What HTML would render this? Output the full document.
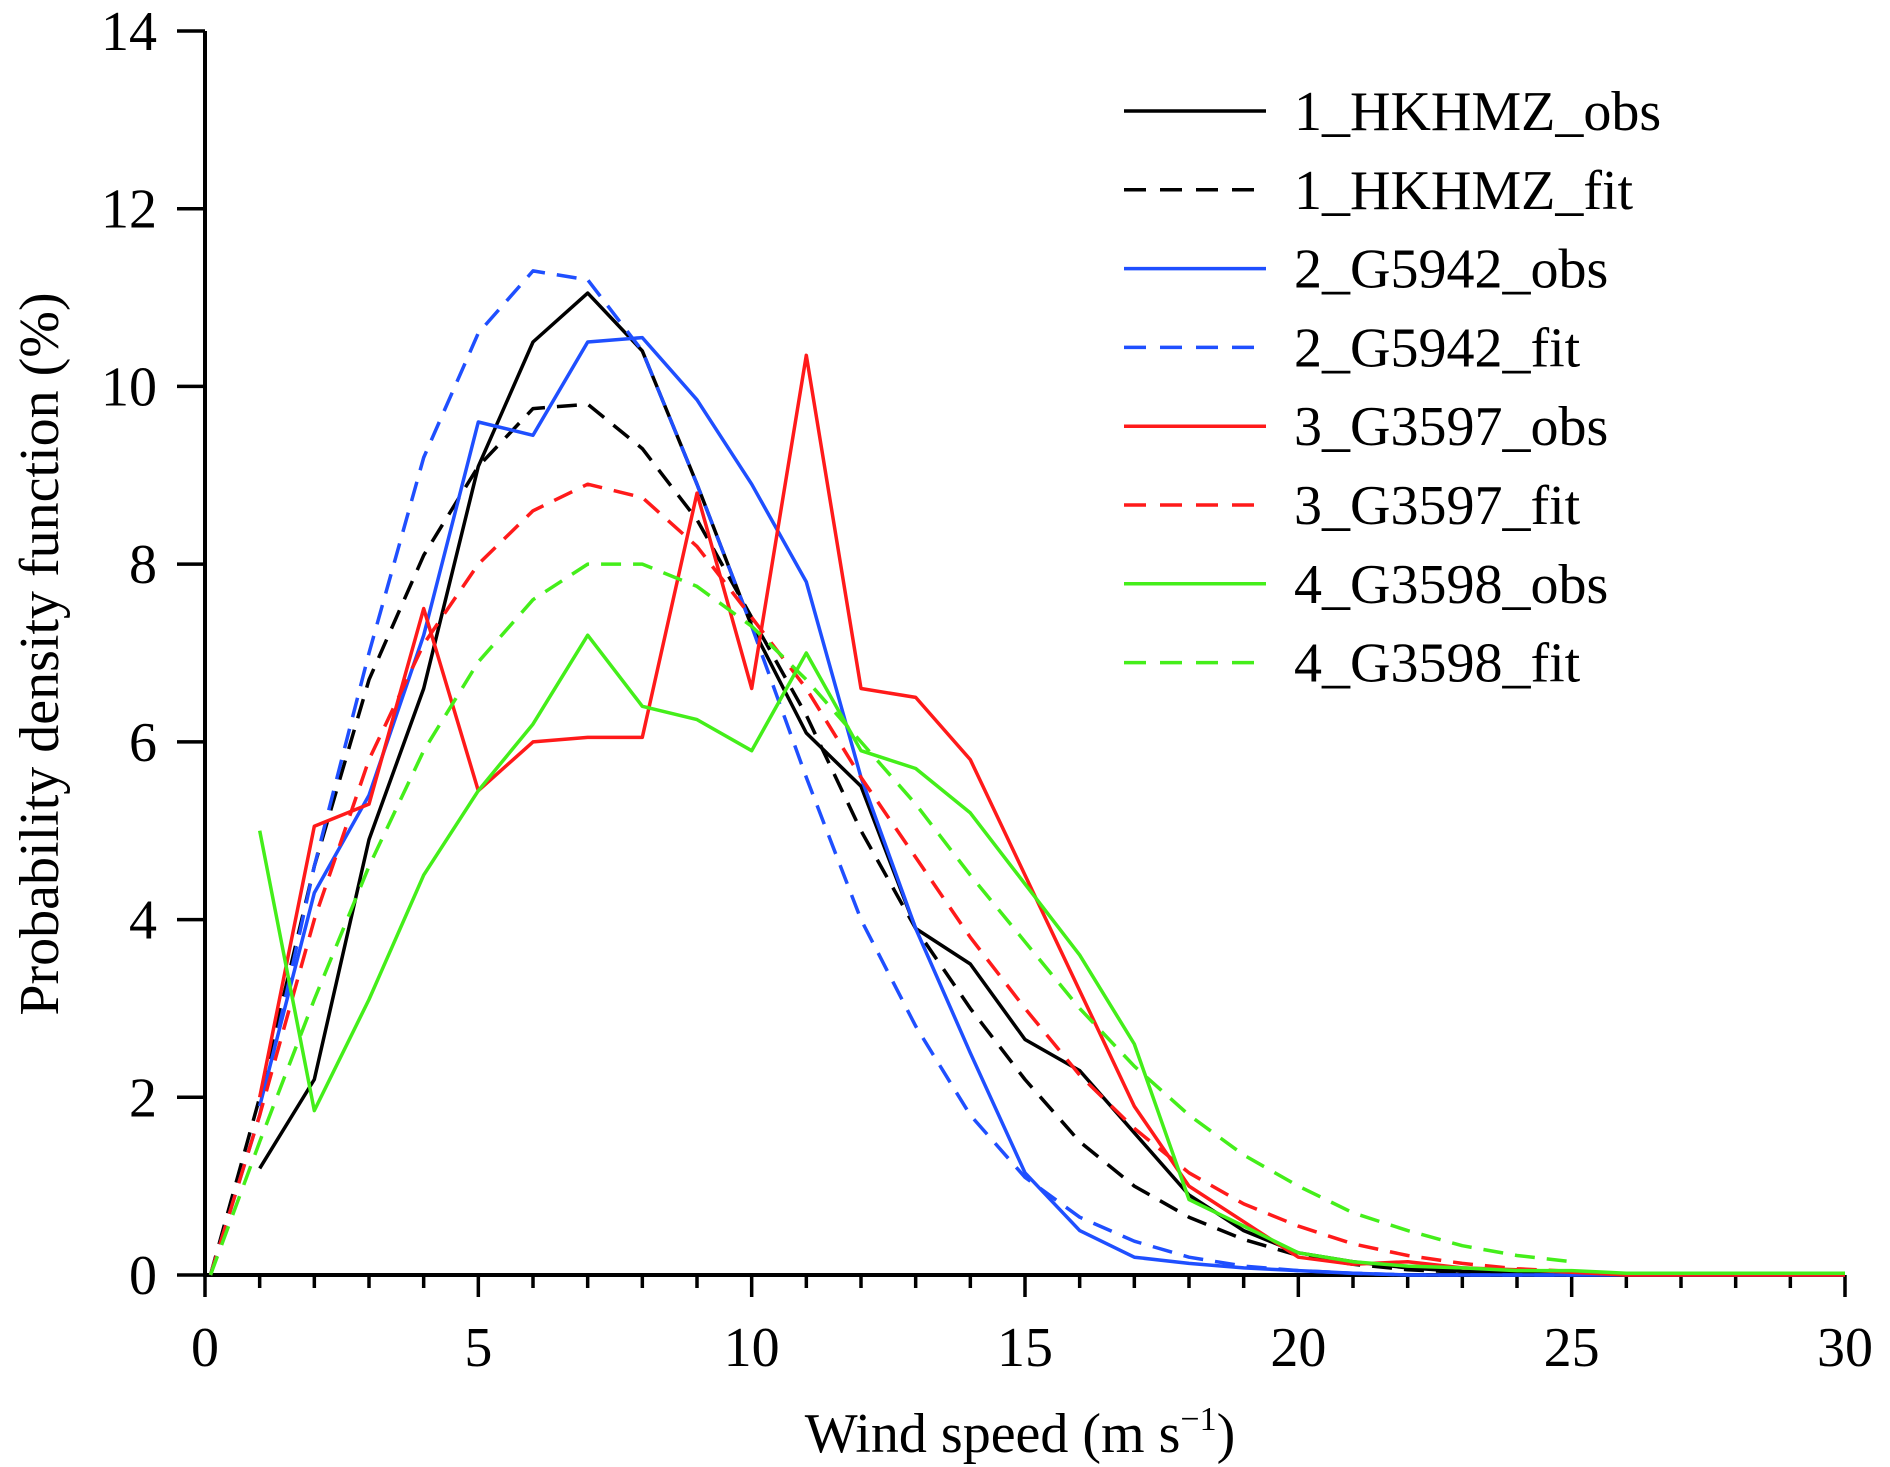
<!DOCTYPE html>
<html><head><meta charset="utf-8"><style>
html,body{margin:0;padding:0;background:#fff}
svg{display:block}
text{font-family:"Liberation Serif",serif;fill:#000}
</style></head><body>
<svg id="chart" width="1890" height="1467" viewBox="0 0 1890 1467" xmlns="http://www.w3.org/2000/svg">
<g id="axes"></g>
<g id="series"></g>
<g id="legend"></g>
<text x="1020" y="1452" font-size="56" text-anchor="middle">Wind speed (m s<tspan font-size="34" dy="-22">−1</tspan><tspan dy="22">)</tspan></text>
<text transform="translate(58,654) rotate(-90)" font-size="56" text-anchor="middle">Probability density function (%)</text>
</svg>
<script>
const xTicks=[0,5,10,15,20,25,30];
const yTicks=[0,2,4,6,8,10,12,14];
const obsX=[1,2,3,4,5,6,7,8,9,10,11,12,13,14,15,16,17,18,19,20,21,22,23,24,25,26,27,28,29,30];
const fitX=[0.1,1,2,3,4,5,6,7,8,9,10,11,12,13,14,15,16,17,18,19,20,21,22,23,24,25];
const hkObs=[1.2,2.2,4.9,6.6,9.1,10.5,11.05,10.4,8.9,7.3,6.1,5.5,3.9,3.5,2.65,2.3,1.6,0.9,0.5,0.25,0.15,0.08,0.04,0.03,0.02,0.01,0,0,0,0];
const hkFit=[0,2.0,4.6,6.7,8.1,9.1,9.75,9.8,9.3,8.5,7.4,6.3,5.0,3.9,3.0,2.2,1.5,1.0,0.65,0.4,0.22,0.12,0.06,0.03,0.01,0];
const g42Obs=[1.9,4.3,5.4,7.2,9.6,9.45,10.5,10.55,9.85,8.9,7.8,5.6,3.9,2.5,1.15,0.5,0.2,0.13,0.08,0.05,0.02,0,0,0,0,0,0,0,0,0];
const g42Fit=[0,1.8,4.6,7.0,9.2,10.6,11.3,11.2,10.4,8.9,7.3,5.6,4.0,2.8,1.8,1.1,0.65,0.38,0.2,0.1,0.05,0.02,0,0,0,0];
const g97Obs=[2.0,5.05,5.3,7.5,5.45,6.0,6.05,6.05,8.8,6.6,10.35,6.6,6.5,5.8,4.5,3.2,1.9,1.0,0.6,0.2,0.12,0.15,0.08,0.06,0.03,0,0,0,0,0];
const g97Fit=[0,1.8,4.0,5.8,7.1,8.0,8.6,8.9,8.75,8.2,7.4,6.6,5.6,4.7,3.8,3.0,2.25,1.65,1.15,0.8,0.55,0.35,0.22,0.13,0.07,0.04];
const g98Obs=[5.0,1.85,3.1,4.5,5.45,6.2,7.2,6.4,6.25,5.9,7.0,5.9,5.7,5.2,4.4,3.6,2.6,0.85,0.55,0.25,0.15,0.1,0.08,0.05,0.05,0.02,0.02,0.02,0.02,0.02];
const g98Fit=[0,1.5,3.1,4.6,5.9,6.9,7.6,8.0,8.0,7.75,7.3,6.7,6.0,5.3,4.5,3.75,3.0,2.35,1.8,1.35,1.0,0.7,0.5,0.33,0.22,0.15];
const seriesNames=["1_HKHMZ_obs","1_HKHMZ_fit","2_G5942_obs","2_G5942_fit","3_G3597_obs","3_G3597_fit","4_G3598_obs","4_G3598_fit"];

const NS="http://www.w3.org/2000/svg";
const X0=205,X1=1845,Y0=1275,Y1=31;
const sx=v=>X0+(v-0)/30*(X1-X0);
const sy=v=>Y0-(v-0)/14*(Y0-Y1);
function mk(tag,attrs,parent){const e=document.createElementNS(NS,tag);for(const k in attrs)e.setAttribute(k,attrs[k]);parent.appendChild(e);return e;}
const axes=document.getElementById('axes');
let a=mk('line',{x1:X0,y1:Y0,x2:X1,y2:Y0,stroke:'#000','stroke-width':4},axes);


a=mk('line',{x1:X0,y1:Y0+2,x2:X0,y2:Y1,stroke:'#000','stroke-width':4},axes);


for(let i=0;i<=30;i++){
  const major=i%5===0;
  const t=mk('line',{x1:sx(i),y1:Y0,x2:sx(i),y2:Y0+(major?22:13),stroke:'#000','stroke-width':3.5},axes);
  
  
}
xTicks.forEach(v=>{
  const t=mk('text',{x:sx(v),y:1366,'font-size':56,'text-anchor':'middle'},axes);
  t.textContent=v;
  
  
});
yTicks.forEach(v=>{
  const t=mk('line',{x1:X0-28,y1:sy(v),x2:X0,y2:sy(v),stroke:'#000','stroke-width':3.5},axes);
  
  
  const l=mk('text',{x:157,y:sy(v)+19,'font-size':56,'text-anchor':'end'},axes);
  l.textContent=v;
  
  
});
const ser=document.getElementById('series');
const defs=[[obsX,hkObs,'#000',false],[fitX,hkFit,'#000',true],[obsX,g42Obs,'#1f4fff',false],[fitX,g42Fit,'#1f4fff',true],[obsX,g97Obs,'#ff1a1a',false],[fitX,g97Fit,'#ff1a1a',true],[obsX,g98Obs,'#44ee1a',false],[fitX,g98Fit,'#44ee1a',true]];
defs.forEach((d,i)=>{
  const pts=d[0].map((x,j)=>sx(x).toFixed(1)+','+sy(d[1][j]).toFixed(1)).join(' ');
  const p=mk('polyline',{points:pts,fill:'none',stroke:d[2],'stroke-width':3.5,'stroke-linejoin':'round'},ser);
  if(d[3])p.setAttribute('stroke-dasharray','20 12');
  
  
});
const leg=document.getElementById('legend');
defs.forEach((d,i)=>{
  const y=111+i*78.8;
  const l=mk('line',{x1:1124,y1:y,x2:1266,y2:y,stroke:d[2],'stroke-width':3.5},leg);
  if(d[3])l.setAttribute('stroke-dasharray','22 14');
  
  
  const t=mk('text',{x:1294,y:y+19,'font-size':56},leg);
  t.textContent=seriesNames[i];
  
  
});
</script>
</body></html>
